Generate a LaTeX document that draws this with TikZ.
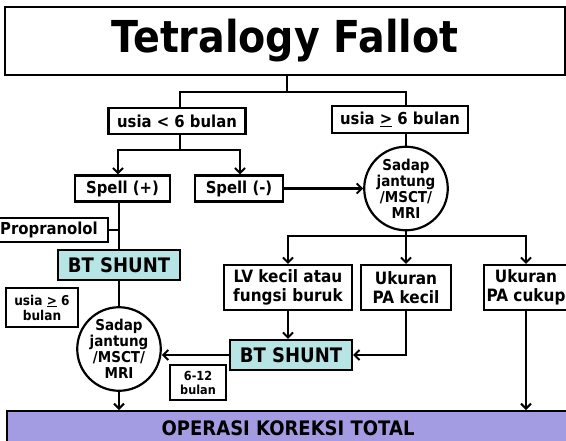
\documentclass[tikz,border=0pt]{standalone}
\usepackage{fontspec}
\setmainfont{DejaVu Sans}[FakeStretch=0.9]
\usetikzlibrary{arrows.meta}
\definecolor{btfill}{HTML}{B7E4E4}
\definecolor{opfill}{HTML}{A49CE3}
\begin{document}
\begin{tikzpicture}[x=1pt,y=-1pt,line width=2.3pt,
  arr/.style={-{Straight Barb[length=5pt,width=10pt,line width=2pt]}},
  box/.style={draw,line width=2.2pt,fill=white,inner sep=0pt,align=center,
    font=\bfseries\fontsize{16.5}{18}\selectfont},
  bt/.style={box,fill=btfill,font=\bfseries\fontsize{20}{22}\selectfont},
  circ/.style={draw,circle,line width=2.2pt,fill=white,inner sep=0pt,minimum size=74pt,align=center,
    font=\bfseries\fontsize{15}{16}\selectfont}]
\useasboundingbox (0,0) rectangle (566,440);
\begin{scope}
\clip (0,0) rectangle (566,440);
\node[box,line width=2.6pt,minimum width=560pt,minimum height=68pt,font=\bfseries\fontsize{44}{48}\selectfont] (title) at (285,41) {Tetralogy Fallot};
\node[box,minimum width=137pt,minimum height=26pt] (u6) at (177,121) {usia < 6 bulan};
\node[box,minimum width=136pt,minimum height=27pt] (ge6) at (400,119.5) {usia \underline{>} 6 bulan};
\node[box,minimum width=95pt,minimum height=26pt] (spellp) at (122.5,188.5) {Spell (+)};
\node[box,minimum width=88pt,minimum height=26pt] (spellm) at (239,188.5) {Spell (-)};
\node[circ] (c1) at (406,188.5) {Sadap\\jantung\\/MSCT/\\MRI};
\node[box,minimum width=128pt,minimum height=45pt,font=\bfseries\fontsize{17}{19}\selectfont] (lv) at (288,287.5) {LV kecil atau\\fungsi buruk};
\node[box,minimum width=90pt,minimum height=45pt,font=\bfseries\fontsize{17}{19}\selectfont] (pak) at (406,287.5) {Ukuran\\PA kecil};
\node[box,minimum width=84pt,minimum height=45pt,font=\bfseries\fontsize{17}{19}\selectfont] (pac) at (526,287.5) {Ukuran\\PA cukup};
\node[box,minimum width=112pt,minimum height=24pt] (prop) at (52,230) {\hspace*{-6pt}Propranolol};
\node[bt,minimum width=122pt,minimum height=30pt] (bt1) at (119,265) {BT SHUNT};
\node[circ] (c2) at (119,349) {Sadap\\jantung\\/MSCT/\\MRI};
\node[box,minimum width=72pt,minimum height=39pt,font=\bfseries\fontsize{13.5}{15}\selectfont] (u6b) at (42,307.5) {usia \underline{>} 6\\bulan};
\node[bt,minimum width=122pt,minimum height=30pt] (bt2) at (291,355) {BT SHUNT};
\node[box,minimum width=56pt,minimum height=35pt,font=\bfseries\fontsize{12.5}{14}\selectfont] (m612) at (198,382.5) {6-12\\bulan};
\node[box,fill=opfill,minimum width=562pt,minimum height=34pt,font=\bfseries\fontsize{20}{22}\selectfont,anchor=north west] (op) at (6,410) {OPERASI KOREKSI TOTAL};
\end{scope}
% connectors
\coordinate (j1) at (287,92);
\coordinate (u6x) at (180,0);
\draw (j1 |- title.south) -- (j1);
\draw (u6x |- u6.north) |- (j1) -| (c1.north |- ge6.north);
\coordinate (j2) at (180,150);
\draw (j2 |- u6.south) -- (j2);
\coordinate (sp) at (118,0);
\coordinate (sm) at (240,0);
\draw[arr] (j2) -| (sp |- spellp.north);
\draw[arr] (j2) -| (sm |- spellm.north);
\draw[arr] (spellm.east) -- (c1.west);
\draw (c1.north |- ge6.south) -- (c1.north);
\coordinate (j3) at (406,236);
\draw (c1.south) -- (j3);
\draw[arr] (j3) -| (lv.north);
\draw[arr] (j3) -- (pak.north);
\draw[arr] (j3) -| (pac.north);
\draw[arr] (lv.south) -- (lv.south |- bt2.north);
\draw[arr] (pak.south) |- (bt2.east);
\draw[arr] (pac.south) -- (pac.south |- op.north);
\draw (bt1.north |- spellp.south) -- (bt1.north);
\draw (prop.east) -- (prop.east -| bt1.north);
\draw (bt1.south) -- (c2.north);
\draw[arr] (bt2.west) -- (c2.east |- bt2.west);
\draw[arr] (c2.south) -- (c2.south |- op.north);
\end{tikzpicture}
\end{document}
